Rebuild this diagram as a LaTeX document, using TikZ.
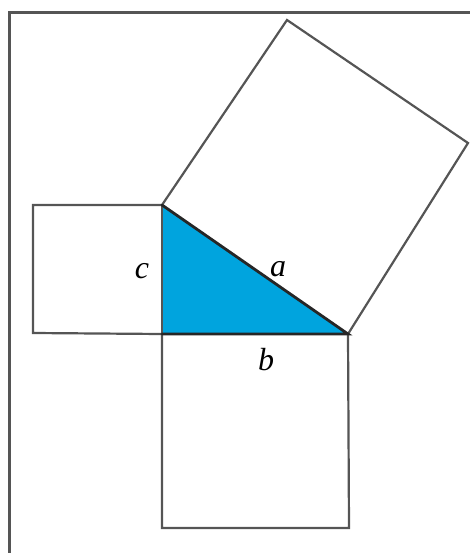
\documentclass[tikz,border=0pt]{standalone}
\usepackage{fontspec}
\setmainfont{Liberation Serif}
\definecolor{tri}{RGB}{0,164,222}
\definecolor{edge}{RGB}{85,85,85}
\begin{document}
\begin{tikzpicture}[x=1pt,y=-1pt,
  sq/.style={draw=edge,line width=2.2pt,line join=miter},
  frame/.style={draw=edge,line width=3pt},
  lbl/.style={font=\fontsize{32}{34}\selectfont\itshape,inner sep=0pt}]
\useasboundingbox (0,0) rectangle (470,553);
\clip (0,0) rectangle (470,553);
\draw[frame] (9,13) rectangle (490,580);
% vertices
\coordinate (A) at (162,205);
\coordinate (C) at (162,334);
\coordinate (B) at (348,334);
% squares
\draw[sq] (A) -- (287,20) -- (468,143) -- (B);
\draw[sq] (A) -- (33,205) -- (33,333) -- (C);
\draw[sq] (C) -- (162,528) -- (349,528) -- (B);
% triangle
\fill[tri] (A) -- (C) -- (B) -- cycle;
\draw[edge,line width=2.2pt] (A) -- (C);
\draw[black!85,line width=2.8pt,line cap=round] (A) -- (B) -- (C);
% labels
\node[lbl] (c) at (142,271) {c};
\node[lbl] (a) at (278,269) {a};
\node[lbl] (b) at (266,360) {b};
\end{tikzpicture}
\end{document}
